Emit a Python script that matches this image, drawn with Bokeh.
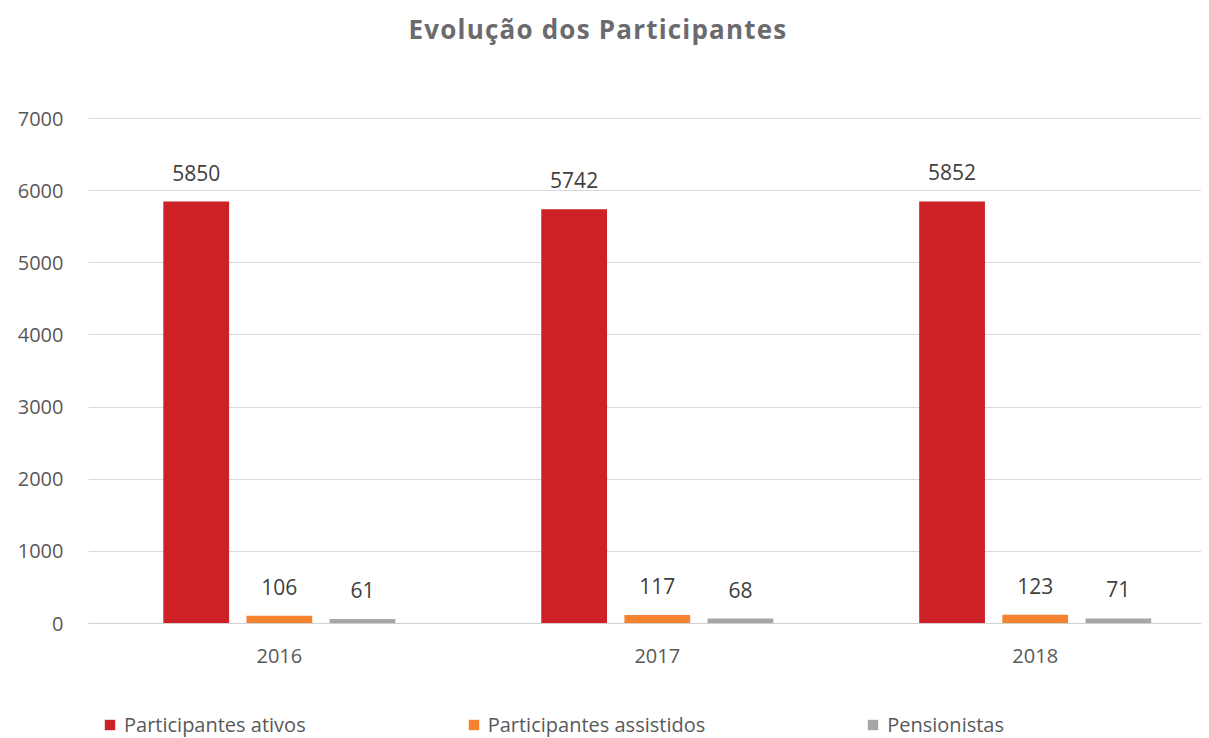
from bokeh.plotting import figure
from bokeh.models import (ColumnDataSource, FixedTicker, LabelSet, Legend, LegendItem,
                          Range1d, Div)
from bokeh.layouts import column
from bokeh.core.properties import value
from bokeh.embed import file_html
from bokeh.resources import INLINE

title_text = "Evolução dos Participantes"
years = ["2016", "2017", "2018"]
ativos = [5850, 5742, 5852]
assistidos = [106, 117, 123]
pensionistas = [61, 68, 71]
series_names = ["Participantes ativos", "Participantes assistidos", "Pensionistas"]
colors = ["#CD2027", "#F5822F", "#A6A6A6"]
y_ticks = [0, 1000, 2000, 3000, 4000, 5000, 6000, 7000]

FONT = "Open Sans"
TXT = "#595959"

title = Div(text=title_text, width=1196, height=60, margin=0,
            styles={"text-align": "center", "line-height": "58px", "font-family": "'Open Sans'",
                    "font-weight": "bold", "font-size": "26px", "color": "#6B6B6E",
                    "letter-spacing": "1.2px", "white-space": "nowrap"})

p = figure(width=1201, height=630, output_backend="svg", toolbar_location=None,
           x_range=Range1d(-0.505, 2.44), y_range=Range1d(0, 7015),
           min_border_left=88, min_border_right=0, min_border_top=57, min_border_bottom=67)
p.outline_line_color = None
p.background_fill_color = "white"
p.border_fill_color = "white"

xs = list(range(len(years)))
offsets = [-0.22, 0.0, 0.22]
width = 0.174
for vals, off, col in zip([ativos, assistidos, pensionistas], offsets, colors):
    src = ColumnDataSource(dict(x=[x + off for x in xs], top=vals, lab=[str(v) for v in vals]))
    p.vbar(x="x", top="top", width=width, bottom=0, source=src,
           fill_color=col, line_color=None)
    ls = LabelSet(x="x", y="top", text="lab", source=src, text_align="center",
                  text_baseline="middle", y_offset=29, text_font=value(FONT),
                  text_font_size="21px", text_color="#404040")
    p.add_layout(ls)

# axes
p.yaxis.ticker = FixedTicker(ticks=y_ticks)
p.yaxis.axis_line_color = None
p.yaxis.major_tick_line_color = None
p.yaxis.major_tick_out = 0
p.yaxis.minor_tick_line_color = None
p.yaxis.major_label_standoff = 25
p.yaxis.major_label_text_font = FONT
p.yaxis.major_label_text_font_size = "20px"
p.yaxis.major_label_text_color = TXT

p.xaxis.ticker = FixedTicker(ticks=xs)
p.xaxis.major_label_overrides = {i: y for i, y in zip(xs, years)}
p.xaxis.axis_line_color = "#D0D0D0"
p.xaxis.major_tick_line_color = None
p.xaxis.major_tick_out = 0
p.xaxis.minor_tick_line_color = None
p.xaxis.major_label_standoff = 25
p.xaxis.major_label_text_font = FONT
p.xaxis.major_label_text_font_size = "20px"
p.xaxis.major_label_text_color = TXT

p.xgrid.grid_line_color = None
p.ygrid.grid_line_color = "#D9D9D9"
p.ygrid.ticker = FixedTicker(ticks=y_ticks)

# legend strip (separate figure so the legend is not clipped)
lg = figure(width=1201, height=48, output_backend="svg", toolbar_location=None,
            x_range=Range1d(0, 1), y_range=Range1d(0, 1),
            x_axis_location=None, y_axis_location=None,
            min_border_left=0, min_border_right=0, min_border_top=0, min_border_bottom=0)
lg.outline_line_color = None
lg.xgrid.grid_line_color = None
lg.ygrid.grid_line_color = None
# legend-only renderers, kept outside the visible range
leg_renderers = [lg.vbar(x=[5], top=[1], width=0.1, fill_color=c, line_color=None) for c in colors]
legend = Legend(items=[LegendItem(label=n, renderers=[r]) for n, r in zip(series_names, leg_renderers)],
                orientation="horizontal", location=(15, 0),
                glyph_width=13, glyph_height=13, label_standoff=8, spacing=161,
                padding=0, margin=0, border_line_color=None, background_fill_alpha=0,
                label_text_font=FONT, label_text_font_size="20px", label_text_color=TXT)
lg.add_layout(legend, "center")

open("out.html", "w").write(file_html(column(title, p, lg), INLINE))
